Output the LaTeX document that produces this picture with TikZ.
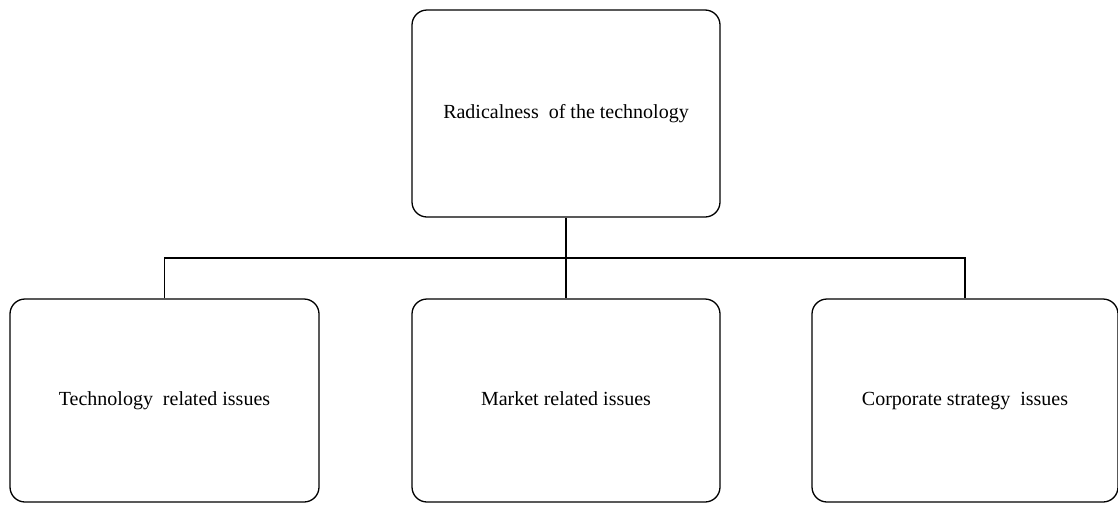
\documentclass[tikz,border=0pt]{standalone}
\usepackage{fontspec}
\setmainfont{Liberation Serif}
\begin{document}
\begin{tikzpicture}[x=1pt,y=-1pt,
  issue/.style={draw, line width=1.3pt, rounded corners=15pt, inner sep=0pt,
    font=\fontsize{20}{24}\selectfont, text height=14pt, text depth=4pt,
    align=center},
  link/.style={line width=1.2pt}]
\useasboundingbox (0,0) rectangle (1118,504);
% head box
\node[issue, minimum width=308pt, minimum height=207pt] (top) at (566,113.5)
  {Radicalness\ \ of the technology};
% three issue boxes
\node[issue, minimum width=309pt, minimum height=203pt] (tech) at (164.5,400.5)
  {Technology\ \ related issues};
\node[issue, minimum width=308pt, minimum height=203pt] (market) at (566,400.5)
  {Market related issues};
\node[issue, minimum width=306pt, minimum height=203pt] (corp) at (965,400.5)
  {Corporate strategy\ \ issues};
% bus line
\coordinate (bus) at (0,258);
\draw[link] (top.south) -- (market.north);
\draw[link] (tech.north) -- (tech.north |- bus) -- (corp.north |- bus) -- (corp.north);
\end{tikzpicture}
\end{document}
